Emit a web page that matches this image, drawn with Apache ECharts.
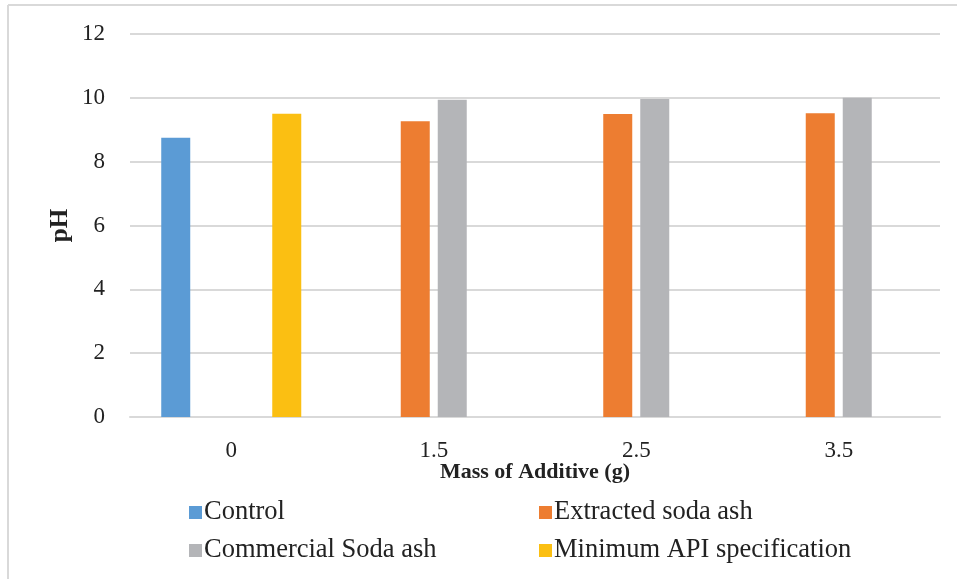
<!DOCTYPE html>
<html>
<head>
<meta charset="utf-8">
<script src="https://cdn.jsdelivr.net/npm/echarts@6/dist/echarts.min.js"></script>
<style>
  html, body { margin: 0; padding: 0; background: #fff; }
  #chart { width: 957px; height: 579px; }
</style>
</head>
<body>
<div id="chart"></div>
<script>
// Mass of additive (g) on the category axis
const categories = ['0', '1.5', '2.5', '3.5'];

// pH readings per series (null where a series has no bar)
const control = [8.75, null, null, null];
const extractedSodaAsh = [null, 9.27, 9.49, 9.52];
const commercialSodaAsh = [null, 9.94, 9.96, 10.0];
const minimumApiSpec = [9.5, null, null, null];

const yTicks = { min: 0, max: 12, interval: 2 };

const FONT = 'Liberation Serif';
const TEXT = '#222';

const chart = echarts.init(document.getElementById('chart'), null, { renderer: 'canvas' });

const barBase = { type: 'bar', barWidth: 29, barGap: '27.6%' };

const legendText = { fontFamily: FONT, fontSize: 26.5, color: TEXT, padding: [0, 0, 0, -3] };

chart.setOption({
  animation: false,
  backgroundColor: '#fff',
  textStyle: { fontFamily: FONT },
  graphic: [
    // thin frame along the top and left edges
    { type: 'line', shape: { x1: 8, y1: 5, x2: 957, y2: 5 }, style: { stroke: '#d9d9d9', lineWidth: 2 } },
    { type: 'line', shape: { x1: 8, y1: 5, x2: 8, y2: 579 }, style: { stroke: '#d9d9d9', lineWidth: 2 } }
  ],
  grid: { left: 130, right: 17, top: 34, bottom: 162 },
  legend: [
    {
      orient: 'vertical', left: 184, top: 494, itemGap: 11,
      itemWidth: 13, itemHeight: 13, icon: 'rect',
      textStyle: legendText,
      data: ['Control', 'Commercial Soda ash']
    },
    {
      orient: 'vertical', left: 534, top: 494, itemGap: 11,
      itemWidth: 13, itemHeight: 13, icon: 'rect',
      textStyle: legendText,
      data: ['Extracted soda ash', 'Minimum API specification']
    }
  ],
  xAxis: {
    type: 'category',
    data: categories,
    name: 'Mass of Additive (g)',
    nameLocation: 'middle',
    nameGap: 44,
    nameMoveOverlap: false,
    nameTextStyle: { fontFamily: FONT, fontSize: 22, fontWeight: 'bold', color: TEXT },
    axisLine: { lineStyle: { color: '#d9d9d9', width: 2 } },
    axisTick: { show: false },
    axisLabel: { fontFamily: FONT, fontSize: 23, color: TEXT, margin: 22 }
  },
  yAxis: {
    type: 'value',
    min: yTicks.min, max: yTicks.max, interval: yTicks.interval,
    name: 'pH',
    nameLocation: 'middle',
    nameGap: 57,
    nameMoveOverlap: false,
    nameTextStyle: { fontFamily: FONT, fontSize: 25, fontWeight: 'bold', color: TEXT },
    axisLine: { show: false },
    axisTick: { show: false },
    splitLine: { lineStyle: { color: '#d9d9d9', width: 2 } },
    axisLabel: { fontFamily: FONT, fontSize: 23, color: TEXT, margin: 25 }
  },
  series: [
    Object.assign({ name: 'Control', data: control, itemStyle: { color: '#5B9BD5' } }, barBase),
    Object.assign({ name: 'Extracted soda ash', data: extractedSodaAsh, itemStyle: { color: '#ED7D31' } }, barBase),
    Object.assign({ name: 'Commercial Soda ash', data: commercialSodaAsh, itemStyle: { color: '#B4B5B8' } }, barBase),
    Object.assign({ name: 'Minimum API specification', data: minimumApiSpec, itemStyle: { color: '#FBBF12' } }, barBase)
  ]
});
</script>
</body>
</html>
